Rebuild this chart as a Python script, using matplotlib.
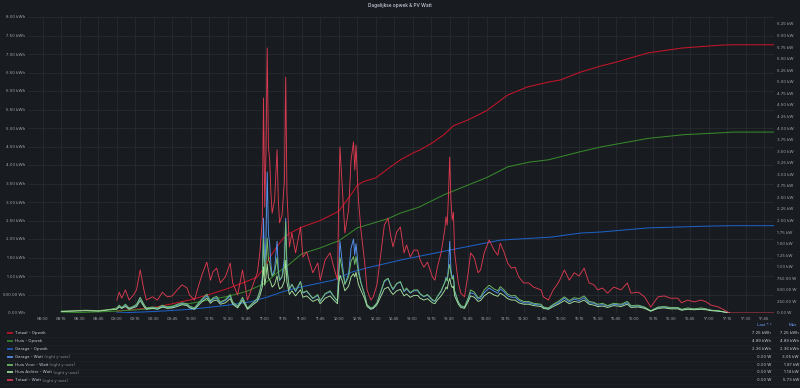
import matplotlib
matplotlib.use("Agg")
import matplotlib.pyplot as plt
import matplotlib.dates as mdates
from matplotlib.lines import Line2D
from matplotlib.ticker import FixedLocator, FuncFormatter
import numpy as np
import pandas as pd

nan = np.nan
DAY = "2023-06-01 "

# ---------------- data ----------------
watt_times = (
    ["08:15", "08:25", "08:35", "08:45", "08:55"]
    + ["09:00", "09:02", "09:04", "09:07", "09:10", "09:13", "09:16", "09:19", "09:22", "09:24", "09:29", "09:33"]
    + ["09:37", "09:41", "09:45", "09:49", "09:53", "09:57", "09:59", "10:03", "10:06", "10:09", "10:13", "10:16"]
    + ["10:18", "10:21", "10:24", "10:28", "10:32", "10:34", "10:38", "10:42", "10:46", "10:48", "10:51", "10:54", "10:56"]
    + ["10:58", "10:59", "11:00", "11:01", "11:02", "11:03", "11:04", "11:05", "11:06", "11:08", "11:10", "11:11", "11:12"]
    + ["11:14", "11:16", "11:17", "11:18", "11:20", "11:22", "11:25", "11:27", "11:29", "11:31", "11:34", "11:39"]
    + ["11:43", "11:45", "11:49", "11:53", "11:56", "11:59", "12:00", "12:01", "12:03", "12:05", "12:08", "12:10"]
    + ["12:12", "12:13", "12:14", "12:16", "12:18", "12:21", "12:23", "12:26", "12:28", "12:31", "12:34", "12:37"]
    + ["12:40", "12:42", "12:44", "12:47", "12:50", "12:53", "12:55", "12:58", "13:01", "13:04", "13:06", "13:09"]
    + ["13:12", "13:16", "13:18", "13:20", "13:23", "13:25", "13:26", "13:27", "13:28", "13:29", "13:30"]
    + ["13:31", "13:32", "13:33", "13:34", "13:37", "13:39", "13:42", "13:45", "13:47", "13:50", "13:53", "13:55", "13:58"]
    + ["14:02", "14:06", "14:09", "14:11", "14:14", "14:17", "14:20", "14:23", "14:26", "14:30"]
    + ["14:34", "14:38", "14:44", "14:46", "14:50", "14:54", "14:58", "15:03", "15:07", "15:11"]
    + ["15:15", "15:19", "15:23", "15:27", "15:30", "15:34", "15:38", "15:43", "15:49", "15:54"]
    + ["15:57", "16:03", "16:08", "16:13", "16:19", "16:24", "16:29", "16:35", "16:38", "16:43"]
    + ["16:48", "16:54", "16:58", "17:02", "17:08", "17:13", "17:17", "17:25", "17:53"]
)

totaal_watt_kw = (
    [nan, nan, nan, nan, nan]
    + [.28, .45, .32, .50, .28, .37, .50, .93, .50, .28, .35, .28]
    + [.45, .35, .37, .50, .61, .54, .39, .28, .56, .82, 1.10, .71]
    + [.89, .97, .65, .78, 1.08, .65, .39, .93, .28, .43, .65, .87, 1.30]
    + [2.01, 4.65, 2.29, 3.46, 5.73, 3.59, 3.31, 2.60, 2.16, 2.44, 3.53, 2.44, 1.95]
    + [2.12, 2.88, 5.10, 2.60, 1.43, 1.73, 1.30, 1.58, 1.86, 1.21, 1.32, .87]
    + [1.08, .71, 1.15, 1.30, .99, .71, 2.44, 3.59, 2.65, 1.73, 2.23, 3.31]
    + [3.70, 3.09, 3.63, 2.44, 1.80, 1.10, .50, .28, .35, .61, 1.25, 1.90]
    + [2.05, 1.69, 1.43, 1.75, 1.86, 1.30, 1.47, 1.21, 1.36, 1.36, 1.15, .99]
    + [1.10, .78, .71, .99, 1.30, 1.64, 1.80, 2.08, 1.90, 2.55, 3.37]
    + [2.44, 2.01, 2.18, 1.30, .65, .43, .35, .87, 1.30, 1.19, .87, .93, 1.30]
    + [1.58, 1.36, 1.25, 1.51, 1.32, 1.08, .97, .99, .78, .65]
    + [.65, .56, .50, .35, .28, .50, .65, .93, .71, .87]
    + [.80, .97, .65, .61, .50, .54, .43, .56, .50, .65]
    + [.43, .45, .35, .13, .35, .37, .32, .32, .22, .28]
    + [.24, .28, .24, .17, .13, .06, 0, 0, 0]
)

garage_watt_kw = (
    [nan, nan, nan, nan, nan]
    + [.09, .15, .10, .17, .09, .12, .17, .32, .17, .09, .12, .09]
    + [.15, .12, .12, .17, .21, .18, .13, .09, .19, .28, .37, .24]
    + [.30, .33, .22, .27, .37, .22, .13, .32, .09, .15, .22, .30, .45]
    + [.75, 2.05, .90, 1.60, 3.05, 1.70, 1.50, 1.05, .80, .95, 1.55, .95, .70]
    + [.78, 1.20, 2.05, 1.00, .50, .62, .46, .56, .68, .43, .47, .31]
    + [.38, .25, .41, .46, .35, .25, .95, 1.55, 1.05, .62, .85, 1.40]
    + [1.60, 1.25, 1.50, .95, .66, .39, .17, .09, .11, .21, .44, .68]
    + [.74, .60, .50, .63, .67, .46, .52, .43, .48, .48, .41, .35]
    + [.39, .27, .25, .35, .46, .60, .66, .78, .70, 1.00, 1.55]
    + [.95, .74, .82, .46, .23, .15, .12, .30, .44, .41, .30, .32, .44]
    + [.54, .47, .43, .52, .46, .37, .34, .34, .27, .22]
    + [.22, .19, .17, .12, .09, .17, .22, .32, .24, .30]
    + [.27, .33, .22, .21, .17, .18, .15, .19, .17, .22]
    + [.15, .15, .12, .04, .12, .13, .11, .11, .07, .09]
    + [.08, .09, .08, .06, .04, .02, 0, nan, nan]
)

voor_watt_kw = (
    [.04, .05, .06, .05, .08]
    + [.11, .17, .12, .19, .11, .14, .19, .34, .19, .11, .13, .11]
    + [.17, .13, .14, .19, .22, .20, .15, .11, .21, .30, .41, .26]
    + [.33, .36, .24, .29, .40, .24, .15, .34, .11, .16, .24, .32, .48]
    + [.70, 1.60, .80, 1.10, 1.62, 1.15, 1.10, .90, .80, .86, 1.20, .86, .72]
    + [.78, 1.00, 1.97, .95, .52, .62, .48, .58, .68, .44, .48, .32]
    + [.40, .26, .42, .48, .36, .26, .85, 1.20, .92, .62, .78, 1.12]
    + [1.22, 1.05, 1.22, .86, .65, .40, .18, .11, .13, .22, .46, .70]
    + [.75, .62, .52, .64, .68, .48, .54, .44, .50, .50, .42, .36]
    + [.40, .29, .26, .36, .48, .60, .65, .75, .69, .90, 1.05]
    + [.86, .73, .78, .48, .24, .16, .13, .33, .50, .45, .33, .35, .50]
    + [.60, .52, .48, .57, .50, .41, .37, .38, .30, .25]
    + [.25, .21, .19, .13, .11, .19, .25, .35, .27, .33]
    + [.31, .37, .25, .23, .19, .21, .16, .21, .19, .25]
    + [.16, .17, .13, .05, .13, .14, .12, .12, .08, .11]
    + [.09, .11, .09, .06, .05, .02, 0, nan, nan]
)

achter_watt_kw = (
    [.03, .04, .05, .04, .07]
    + [.08, .13, .10, .14, .08, .11, .14, .27, .14, .08, .10, .08]
    + [.13, .10, .11, .14, .18, .16, .11, .08, .16, .24, .32, .21]
    + [.26, .28, .19, .22, .31, .19, .11, .27, .08, .12, .19, .25, .37]
    + [.56, 1.00, .60, .78, 1.06, .75, .72, .65, .56, .62, .80, .62, .52]
    + [.56, .70, 1.14, .66, .40, .48, .37, .44, .50, .34, .37, .25]
    + [.30, .20, .32, .37, .28, .20, .62, .82, .68, .48, .58, .78]
    + [.85, .78, .88, .62, .49, .31, .14, .08, .10, .18, .35, .52]
    + [.56, .47, .40, .48, .51, .37, .41, .34, .38, .38, .32, .28]
    + [.31, .22, .20, .28, .37, .45, .49, .56, .52, .66, .75]
    + [.62, .55, .58, .37, .19, .12, .10, .25, .37, .34, .25, .27, .37]
    + [.45, .39, .36, .43, .38, .31, .28, .28, .22, .19]
    + [.19, .16, .14, .10, .08, .14, .19, .27, .20, .25]
    + [.23, .28, .19, .17, .14, .15, .12, .16, .14, .19]
    + [.12, .13, .10, .04, .10, .11, .09, .09, .06, .08]
    + [.07, .08, .07, .05, .04, .02, 0, nan, nan]
)

totaal_cum_times = ["09:00", "09:15", "09:30", "09:45", "10:00", "10:15", "10:30", "10:45", "10:54",
                    "11:00", "11:05", "11:10", "11:15", "11:20", "11:30", "11:45", "12:00", "12:10",
                    "12:15", "12:20", "12:30", "12:40", "12:50", "13:00", "13:06", "13:15", "13:25",
                    "13:33", "13:45", "14:00", "14:17", "14:33", "14:50", "15:00", "15:16", "15:33",
                    "15:45", "16:11", "16:38", "17:10", "17:20", "17:53"]
totaal_cum_kwh = [0.05, 0.10, 0.15, 0.25, 0.36, 0.50, 0.66, 0.85, 0.97,
                  1.25, 1.55, 1.80, 2.02, 2.15, 2.32, 2.50, 2.75, 3.20,
                  3.45, 3.55, 3.65, 3.90, 4.14, 4.32, 4.41, 4.58, 4.81,
                  5.06, 5.22, 5.47, 5.89, 6.11, 6.24, 6.30, 6.51, 6.68,
                  6.78, 7.03, 7.16, 7.24, 7.25, 7.25]

huis_cum_times = ["08:15", "08:45", "09:00", "09:30", "10:00", "10:30", "10:45", "11:00", "11:10",
                  "11:20", "11:30", "11:45", "11:55", "12:00", "12:15", "12:30", "12:40", "12:50",
                  "13:05", "13:25", "13:45", "14:00", "14:17", "14:35", "14:50", "15:16", "15:33",
                  "16:11", "16:40", "17:10", "17:20", "17:53"]
huis_cum_kwh = [0.0, 0.03, 0.05, 0.12, 0.26, 0.45, 0.58, 0.80, 1.08,
                1.32, 1.60, 1.76, 1.89, 1.95, 2.30, 2.45, 2.55, 2.70,
                2.86, 3.19, 3.46, 3.66, 3.95, 4.08, 4.14, 4.36, 4.49,
                4.72, 4.82, 4.87, 4.89, 4.89]

garage_cum_times = ["09:00", "09:30", "10:00", "10:30", "10:48", "11:02", "11:15", "11:29", "11:56",
                    "12:10", "12:23", "12:50", "13:30", "14:11", "14:52", "15:16", "15:33", "16:11",
                    "17:02", "17:20", "17:53"]
garage_cum_kwh = [0.0, 0.04, 0.10, 0.21, 0.30, 0.43, 0.58, 0.70, 0.89,
                  1.10, 1.22, 1.43, 1.70, 1.97, 2.05, 2.16, 2.19, 2.30,
                  2.35, 2.36, 2.36]

x_start, x_end = "07:48", "17:53"

# ---------------- style ----------------
BG = "#181b1f"
GRID = "#2a2d33"
TICK = "#a7a8b0"
TEXT = "#ccccdc"
DIM = "#8a8b94"
BLUE_HDR = "#6e9fff"
FONT = ["Inter", "DejaVu Sans"]
FS = 3.0

plt.rcParams["font.family"] = FONT

W, H = 800, 388
fig = plt.figure(figsize=(W / 100, H / 100), dpi=100, facecolor=BG)

L, R, T, B = 28, 774, 17, 313
ax = fig.add_axes([L / W, 1 - B / H, (R - L) / W, (B - T) / H], facecolor=BG)
ax2 = ax.twinx()
ax2.patch.set_visible(False)


def tt(lst):
    return pd.to_datetime([DAY + s for s in lst])


series_cum = [
    ("Totaal - Opwek", "", "#c4162a", totaal_cum_times, totaal_cum_kwh),
    ("Huis - Opwek", "", "#37872d", huis_cum_times, huis_cum_kwh),
    ("Garage - Opwek", "", "#1f60c4", garage_cum_times, garage_cum_kwh),
]
series_w = [
    ("Garage - Watt", " (right y-axis)", "#5794f2", garage_watt_kw),
    ("Huis Voor - Watt", " (right y-axis)", "#73bf69", voor_watt_kw),
    ("Huis Achter - Watt", " (right y-axis)", "#a9e2a1", achter_watt_kw),
    ("Totaal - Watt", " (right y-axis)", "#dc3a50", totaal_watt_kw),
]

for name, suf, col, ts, vals in series_cum:
    ax.plot(tt(ts), vals, color=col, lw=0.75)

wt = tt(watt_times)
for name, suf, col, vals in series_w:
    ax2.plot(wt, vals, color=col, lw=0.65)

ax.set_xlim(pd.Timestamp(DAY + x_start), pd.Timestamp(DAY + x_end))
ax.set_ylim(0, 8)
ax2.set_ylim(0, 6.40)


def fmt_energy(v, pos=None):
    if abs(v) < 1e-9:
        return "0.00 Wh"
    if v < 1:
        return f"{v * 1000:.2f} Wh"
    return f"{v:.2f} kWh"


def fmt_power(v, pos=None):
    if abs(v) < 1e-9:
        return "0.00 W"
    if v < 1:
        return f"{v * 1000:.2f} W"
    return f"{v:.2f} kW"


ax.yaxis.set_major_locator(FixedLocator(np.arange(0, 8.01, 0.5)))
ax.yaxis.set_major_formatter(FuncFormatter(fmt_energy))
ax2.yaxis.set_major_locator(FixedLocator(np.arange(0, 6.26, 0.25)))
ax2.yaxis.set_major_formatter(FuncFormatter(fmt_power))
ax.xaxis.set_major_locator(mdates.MinuteLocator(byminute=[0, 15, 30, 45]))
ax.xaxis.set_major_formatter(mdates.DateFormatter("%H:%M"))

for a in (ax, ax2):
    for s in a.spines.values():
        s.set_visible(False)
    a.tick_params(axis="both", length=0, labelsize=FS, colors=TICK, pad=2.2)
ax.tick_params(axis="x", pad=3.0)

ax.grid(True, color=GRID, lw=0.5)
ax.set_axisbelow(True)

fig.text(0.5, 1 - 6 / H, "Dagelijkse opwek & PV Watt", ha="center", va="center",
         fontsize=3.4, color=TEXT, fontweight="medium")

# ---------------- legend table ----------------
hdr_y = 1 - 324.5 / H
fig.text(772 / W, hdr_y, "Last * \u02c5", ha="right", va="center", fontsize=FS, color=BLUE_HDR)
fig.text(797 / W, hdr_y, "Max", ha="right", va="center", fontsize=FS, color=BLUE_HDR)

rows_px = [333, 341, 349, 356.8, 364.6, 372.4, 380.3]
entries = []
for name, suf, col, ts, vals in series_cum:
    entries.append((name, suf, col, fmt_energy(vals[-1]), fmt_energy(max(vals))))
for name, suf, col, vals in series_w:
    arr = np.array(vals, dtype=float)
    last = arr[~np.isnan(arr)][-1]
    entries.append((name, suf, col, fmt_power(last), fmt_power(np.nanmax(arr))))

for i, (name, suf, col, last, mx) in enumerate(entries):
    ypx = rows_px[i]
    y = 1 - ypx / H
    sep = 1 - (ypx + 3.9) / H
    fig.add_artist(Line2D([3 / W, 799 / W], [sep, sep], color="#202328", lw=0.5))
    fig.add_artist(Line2D([7 / W, 12.5 / W], [y, y], color=col, lw=1.2, solid_capstyle="butt"))
    t = fig.text(15 / W, y, name, ha="left", va="center", fontsize=FS, color=TEXT)
    if suf:
        ax.annotate(suf, xy=(1, 0.5), xycoords=t, xytext=(0, 0), textcoords="offset points",
                    ha="left", va="center", fontsize=FS, color=DIM, annotation_clip=False)
    fig.text(771 / W, y, last, ha="right", va="center", fontsize=FS, color=TEXT)
    fig.text(799 / W, y, mx, ha="right", va="center", fontsize=FS, color=TEXT)

fig.savefig("out.png", dpi=100, facecolor=BG)
